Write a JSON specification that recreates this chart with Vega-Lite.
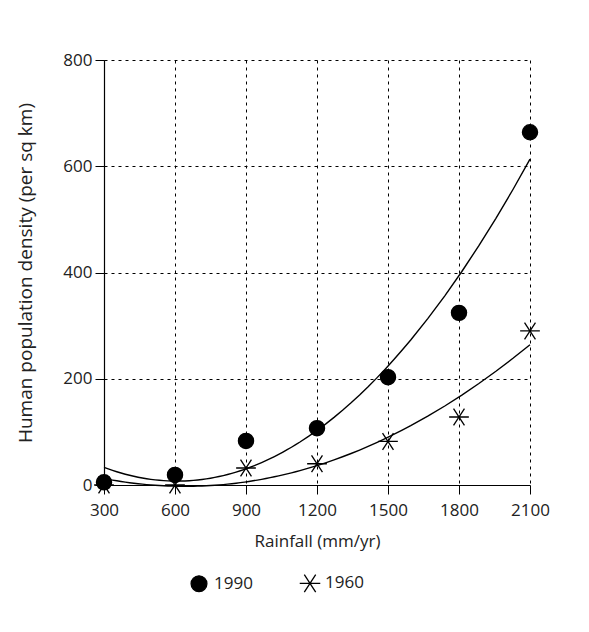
{
  "$schema": "https://vega.github.io/schema/vega-lite/v6.json",
  "autosize": {"type": "none"},
  "width": 426,
  "height": 425,
  "padding": {"left": 104, "top": 60, "right": 59, "bottom": 147},
  "background": "white",
  "config": {
    "font": "Open Sans",
    "view": {"stroke": null},
    "axis": {
      "labelFontSize": 17, "titleFontSize": 17, "labelColor": "#222", "titleColor": "#222",
      "titleFontWeight": "normal", "domainColor": "black", "tickColor": "black",
      "gridColor": "black", "gridDash": [3, 4], "gridOpacity": 1, "gridWidth": 1,
      "tickSize": 9, "domainWidth": 1.2, "labelFlush": false, "labelOverlap": false
    },
    "legend": {"labelFontSize": 17, "labelColor": "#222"}
  },
  "data": {
    "values": [
      {"rain": 300, "density": 5, "year": "1990"},
      {"rain": 600, "density": 19, "year": "1990"},
      {"rain": 900, "density": 83, "year": "1990"},
      {"rain": 1200, "density": 107, "year": "1990"},
      {"rain": 1500, "density": 203, "year": "1990"},
      {"rain": 1800, "density": 324, "year": "1990"},
      {"rain": 2100, "density": 664, "year": "1990"},
      {"rain": 300, "density": 0, "year": "1960"},
      {"rain": 600, "density": 0, "year": "1960"},
      {"rain": 900, "density": 32, "year": "1960"},
      {"rain": 1200, "density": 40, "year": "1960"},
      {"rain": 1500, "density": 82, "year": "1960"},
      {"rain": 1800, "density": 128, "year": "1960"},
      {"rain": 2100, "density": 290, "year": "1960"}
    ]
  },
  "encoding": {
    "x": {
      "field": "rain", "type": "quantitative",
      "scale": {"domain": [300, 2100], "nice": false, "zero": false},
      "axis": {"values": [300, 600, 900, 1200, 1500, 1800, 2100], "format": "d", "title": "Rainfall (mm/yr)", "titlePadding": 15, "labelPadding": 8}
    },
    "y": {
      "field": "density", "type": "quantitative",
      "scale": {"domain": [0, 800], "nice": false},
      "axis": {"values": [0, 200, 400, 600, 800], "format": "d", "title": "Human population density (per sq km)", "titleFontSize": 19, "titlePadding": 27, "labelPadding": 3}
    }
  },
  "layer": [
    {
      "transform": [
        {"regression": "density", "on": "rain", "groupby": ["year"], "method": "poly", "order": 2, "extent": [300, 2100]}
      ],
      "mark": {"type": "line", "color": "black", "strokeWidth": 1.4, "clip": false},
      "encoding": {"detail": {"field": "year"}}
    },
    {
      "mark": {"type": "point", "opacity": 1, "strokeWidth": 1.3, "size": 230, "clip": false},
      "encoding": {
        "shape": {
          "field": "year", "type": "nominal",
          "scale": {"domain": ["1990", "1960"], "range": ["circle", "M-1.3,0H1.3M-0.72,-1.1L0.72,1.1M-0.72,1.1L0.72,-1.1"]},
          "legend": {"title": null, "orient": "none", "legendX": 86, "legendY": 514, "direction": "horizontal", "columns": 2, "columnPadding": 44, "labelOffset": 6, "symbolSize": 250, "symbolStrokeWidth": 1.3}
        },
        "fill": {
          "field": "year", "type": "nominal",
          "scale": {"domain": ["1990", "1960"], "range": ["black", "transparent"]}
        },
        "stroke": {
          "field": "year", "type": "nominal",
          "scale": {"domain": ["1990", "1960"], "range": ["black", "black"]}
        }
      }
    }
  ]
}
